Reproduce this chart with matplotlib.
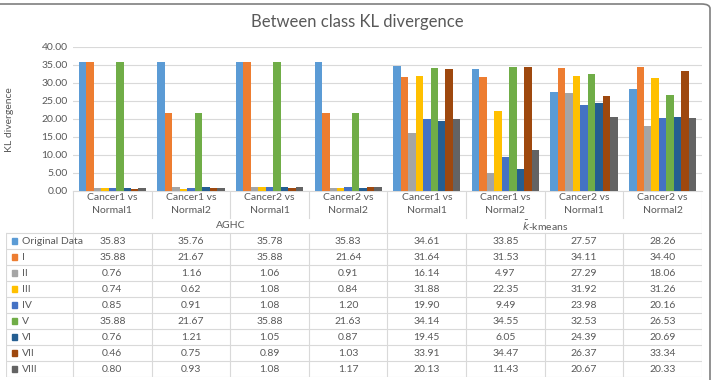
import numpy as np
import matplotlib.pyplot as plt
from matplotlib.patches import FancyBboxPatch, Rectangle

plt.rcParams['font.family'] = ['Lato', 'DejaVu Sans']

# data
categories = ["Cancer1 vs\nNormal1", "Cancer1 vs\nNormal2", "Cancer2 vs\nNormal1", "Cancer2 vs\nNormal2"] * 2
groups = ["AGHC", r"$\bar{k}$-kmeans"]
series = ["Original Data", "I", "II", "III", "IV", "V", "VI", "VII", "VIII"]
original = [35.83, 35.76, 35.78, 35.83, 34.61, 33.85, 27.57, 28.26]
s_i = [35.88, 21.67, 35.88, 21.64, 31.64, 31.53, 34.11, 34.40]
s_ii = [0.76, 1.16, 1.06, 0.91, 16.14, 4.97, 27.29, 18.06]
s_iii = [0.74, 0.62, 1.08, 0.84, 31.88, 22.35, 31.92, 31.26]
s_iv = [0.85, 0.91, 1.08, 1.20, 19.90, 9.49, 23.98, 20.16]
s_v = [35.88, 21.67, 35.88, 21.63, 34.14, 34.55, 32.53, 26.53]
s_vi = [0.76, 1.21, 1.05, 0.87, 19.45, 6.05, 24.39, 20.69]
s_vii = [0.46, 0.75, 0.89, 1.03, 33.91, 34.47, 26.37, 33.34]
s_viii = [0.80, 0.93, 1.08, 1.17, 20.13, 11.43, 20.67, 20.33]
values = [original, s_i, s_ii, s_iii, s_iv, s_v, s_vi, s_vii, s_viii]
colors = ["#5B9BD5", "#ED7D31", "#A5A5A5", "#FFC000", "#4472C4",
          "#70AD47", "#255E91", "#9E480E", "#636363"]

W, H = 714, 380
fig = plt.figure(figsize=(W / 100, H / 100), dpi=100)
txt = "#595959"
grid = "#D9D9D9"

# bar chart
x0, x1 = 73, 702
ax = fig.add_axes([x0 / W, (H - 191) / H, (x1 - x0) / W, (191 - 47) / H])
n = len(series)
bw = 0.095
x = np.arange(len(categories))
for i, (vals, c) in enumerate(zip(values, colors)):
    ax.bar(x + (i - (n - 1) / 2) * bw, vals, width=bw, color=c, zorder=3)
ax.set_xlim(-0.5, len(categories) - 0.5)
ax.set_ylim(0, 40)
ax.set_yticks(np.arange(0, 41, 5))
ax.set_yticklabels([f"{v:.2f}" for v in np.arange(0, 41, 5)])
ax.tick_params(axis='y', length=0, labelsize=7.5, labelcolor=txt, pad=4)
ax.set_xticks([])
ax.grid(axis='y', color=grid, linewidth=0.8, zorder=0)
for s in ["top", "right", "left"]:
    ax.spines[s].set_visible(False)
ax.spines["bottom"].set_color(grid)
ax.patch.set_alpha(0)

fig.text(357 / W, 1 - 22 / H, "Between class KL divergence", ha='center', va='center',
         fontsize=12, color=txt)
fig.text(10 / W, 1 - 120 / H, "KL divergence", rotation=90, ha='center', va='center',
         fontsize=7.5, color=txt)

# data table
lab_w = (x0 - 6) / ((x1 - x0) / len(categories))
tb = fig.add_axes([6 / W, 3 / H, (x1 - 6) / W, 186 / H])
tb.set_xlim(-0.5 - lab_w, len(categories) - 0.5)
tb.set_ylim(186, 0)
tb.axis('off')
lkw = dict(color=grid, linewidth=0.8)
for j, cat in enumerate(categories):
    tb.text(j, 13, cat, ha='center', va='center', fontsize=7.5, color=txt, linespacing=1.45)
    if j > 0 and j % 4 != 0:
        tb.plot([j - 0.5, j - 0.5], [0, 27], **lkw)
for g, name in enumerate(groups):
    tb.text(g * 4 + 1.5, 35, name, ha='center', va='center', fontsize=7.5, color=txt)
tb.plot([3.5, 3.5], [0, 186], **lkw)
tb.plot([-0.5, -0.5], [0, 186], **lkw)
tb.plot([7.5, 7.5], [0, 186], **lkw)
tb.plot([-0.5 - lab_w, -0.5 - lab_w], [42, 186], **lkw)
row_h = 16
for r in range(n + 1):
    yl = 42 + r * row_h
    tb.plot([-0.5 - lab_w, 7.5], [yl, yl], **lkw)
for r, (name, vals, c) in enumerate(zip(series, values, colors)):
    yc = 42 + row_h * r + row_h / 2
    tb.add_patch(Rectangle((-0.5 - lab_w + 0.07, yc - 3), 0.075, 6, color=c))
    tb.text(-0.5 - lab_w + 0.2, yc, name, ha='left', va='center', fontsize=7.5, color=txt)
    for j, v in enumerate(vals):
        if j < len(vals) - 1 and j != 3:
            tb.plot([j + 0.5, j + 0.5], [42 + row_h * r, 42 + row_h * (r + 1)], **lkw)
        tb.text(j, yc, f"{v:.2f}", ha='center', va='center', fontsize=7.5, color=txt)

# outer frame
fig.patches.append(FancyBboxPatch((-8 / W, -8 / H), (W + 4) / W, (H + 4) / H,
                                  boxstyle="round,pad=0,rounding_size=0.012",
                                  transform=fig.transFigure, fill=False,
                                  edgecolor="#7F7F7F", linewidth=1.2))

fig.savefig("out.png", dpi=100)
